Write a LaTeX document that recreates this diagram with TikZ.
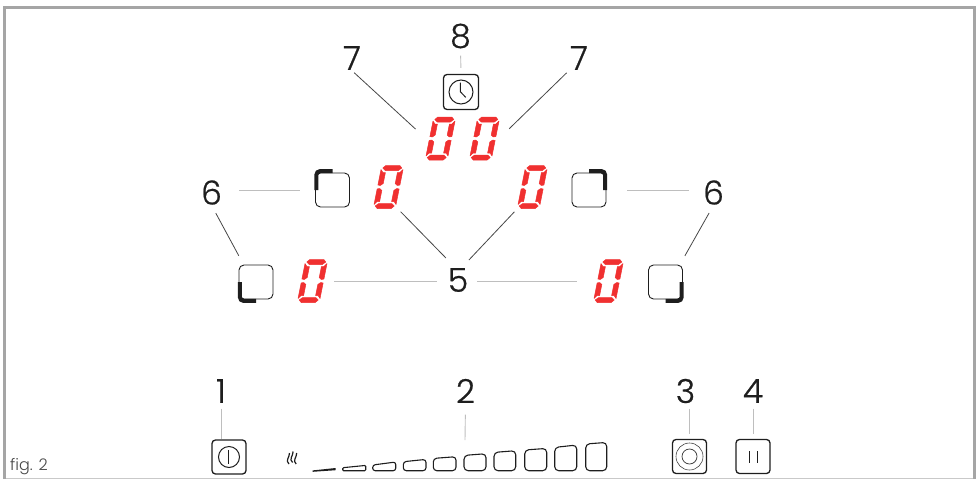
\documentclass[tikz,border=0pt]{standalone}
\usepackage{fontspec}
\setmainfont{Poppins}[UprightFont=* Light]
\newfontfamily\numfont{Poppins}[UprightFont=* Light,UprightFeatures={FakeBold=0.6}]
\usepackage{xcolor}
\usepackage{tikz}
\usetikzlibrary{calc}
\definecolor{framec}{RGB}{165,165,165}
\definecolor{leadc}{RGB}{190,190,190}
\definecolor{darkc}{RGB}{70,70,70}
\definecolor{keyc}{RGB}{30,30,30}
\definecolor{segred}{RGB}{240,48,48}
\tikzset{
  numlabel/.style={font=\numfont\fontsize{33}{33}\selectfont,text=keyc,inner sep=0pt,minimum width=20pt,minimum height=25pt},
  keybox/.style={draw=keyc,line width=1.3pt,rounded corners=3.5pt,minimum size=34pt,inner sep=0pt},
  softbox/.style={draw=keyc,line width=0.9pt,rounded corners=5pt,minimum size=34pt,inner sep=0pt},
  digitbox/.style={minimum width=29pt,minimum height=42pt,inner sep=0pt},
  greyline/.style={leadc,line width=0.9pt},
  darkline/.style={darkc,line width=0.8pt},
  cornermark/.style={keyc,line width=4pt,rounded corners=3.5pt},
  sevenseg/.pic={
    % six lit segments of a slanted seven segment digit, middle one off
    \begin{scope}[xslant=0.2,fill=segred,draw=segred,line width=0.5pt,line join=round]
      \filldraw (-7,-21.5) -- (7,-21.5) -- (9.5,-19) -- (6.5,-16.5) -- (-6.5,-16.5) -- (-9.5,-19) -- cycle;
      \filldraw (-7,21.5) -- (7,21.5) -- (9.5,19) -- (6.5,16.5) -- (-6.5,16.5) -- (-9.5,19) -- cycle;
      \filldraw (-11,-17.5) -- (-8.5,-14.5) -- (-6,-14.5) -- (-6,-3.5) -- (-8.5,-1.5) -- (-11,-2) -- cycle;
      \filldraw (11,-17.5) -- (8.5,-14.5) -- (6,-14.5) -- (6,-3.5) -- (8.5,-1.5) -- (11,-2) -- cycle;
      \filldraw (-11,17.5) -- (-8.5,14.5) -- (-6,14.5) -- (-6,3.5) -- (-8.5,1.5) -- (-11,2) -- cycle;
      \filldraw (11,17.5) -- (8.5,14.5) -- (6,14.5) -- (6,3.5) -- (8.5,1.5) -- (11,2) -- cycle;
    \end{scope}
  }
}
% digit as a node plus its segments
\newcommand{\segdigit}[2]{%
  \node[digitbox] (#1) at (#2) {};
  \pic at (#2) {sevenseg};
}
\begin{document}
\begin{tikzpicture}[x=1pt,y=-1pt]
  \useasboundingbox (0,0) rectangle (976,479);
  % outer frame
  \draw[framec!60,line width=1.2pt] (4,478.3) -- (976,478.3);
  \draw[framec,line width=3pt] (4.5,479) -- (4.5,7.5) -- (974.5,7.5) -- (974.5,479);
  \node[font=\fontsize{16}{16}\selectfont,text=darkc,anchor=west,inner sep=0pt] (figlabel) at (10,467) {fig. 2};

  % labels
  \node[numlabel] (lab8) at (460.5,36) {8};
  \node[numlabel] (lab7l) at (352,58) {7};
  \node[numlabel] (lab7r) at (579,58) {7};
  \node[numlabel] (lab6l) at (211.5,192.5) {6};
  \node[numlabel] (lab6r) at (713.5,192.5) {6};
  \node[numlabel] (lab5) at (458,280) {5};
  \node[numlabel] (lab1) at (221,391) {1};
  \node[numlabel] (lab2) at (465.5,391) {2};
  \node[numlabel] (lab3) at (685.5,391) {3};
  \node[numlabel] (lab4) at (753,391) {4};

  % keys
  \node[keybox,minimum size=35pt] (btntimer) at (461,92) {};
  \node[keybox] (btnpower) at (229,457) {};
  \node[keybox] (btnring) at (689.5,456.5) {};
  \node[keybox] (btnpause) at (753,456.5) {};
  \node[softbox] (btntl) at (332.5,190) {};
  \node[softbox] (btnbl) at (256,282) {};
  \node[softbox] (btntr) at (589,190) {};
  \node[softbox] (btnbr) at (665.5,282) {};

  % thick corner of each zone key
  \draw[cornermark] ([xshift=1.4pt]btntl.west) |- ([yshift=1.4pt]btntl.north);
  \draw[cornermark] ([xshift=-1.4pt]btntr.east) |- ([yshift=1.4pt]btntr.north);
  \draw[cornermark] ([xshift=1.4pt]btnbl.west) |- ([yshift=-1.4pt]btnbl.south);
  \draw[cornermark] ([xshift=-1.4pt]btnbr.east) |- ([yshift=-1.4pt]btnbr.south);

  % key symbols
  \draw[keyc,line width=1pt] (btntimer) circle (12pt);
  \draw[keyc,line width=1pt] (460.3,82.7) -- (460.3,91.7) -- (465.7,97.3);
  \draw[keyc,line width=1pt] (btnpower) circle (10.5pt);
  \draw[keyc,line width=1pt] (228.7,450) -- (228.7,463.5);
  \draw[darkc,line width=0.6pt] (btnring) circle (13.5pt);
  \draw[darkc,line width=0.8pt] (btnring) circle (7.5pt);
  \foreach \px in {749.7,757} {
    \draw[keyc,line width=1pt] (\px,451) -- (\px,463);
  }

  % digits
  \segdigit{digl}{440.5,138.5}
  \segdigit{digr}{484.5,138.5}
  \segdigit{dtl}{388.5,187}
  \segdigit{dtr}{532.5,187}
  \segdigit{dbl}{312.5,281}
  \segdigit{dbr}{608.5,281}

  % heat symbol
  \foreach \px/\py in {0/464,3.6/462.5,7.2/464} {
    \draw[keyc,line width=1.2pt] (289+\px,\py) .. controls (285+\px,\py-3.5) and (289.5+\px,\py-6.5) .. (289.5+\px,\py-11);
  }

  % power level bars
  \foreach \xl/\xr/\hl/\hr/\rc in {342.7/365.7/3/5.3/1, 372.7/395.7/5.7/8.7/2.5, 403.3/426/9/11.3/3,
      433.3/456/12.3/14/3.5, 464/486/15.3/17/4, 494/515.7/18.3/20/4, 524.7/546.7/20.7/22.3/4,
      554.7/576.7/23.3/25.7/4, 585.7/606.7/26.7/28.3/4} {
    \draw[keyc,line width=1.1pt,rounded corners=\rc pt] (\xl,470.7) -- (\xl,470.7-\hl) -- (\xr,470.7-\hr) -- (\xr,470.7) -- cycle;
  }
  \fill[keyc] (312.7,470.4) -- (335.7,468) -- (335.7,470.2) -- (312.7,471.8) -- cycle;
  \coordinate (bartop) at (465,440);

  % leaders
  \draw[greyline,shorten >=6pt,shorten <=7pt] (lab8.south) -- (btntimer.north);
  \draw[darkline,shorten <=3pt,shorten >=14pt] (lab7l.south) -- (digl.west);
  \draw[darkline,shorten <=3pt,shorten >=14pt] (lab7r.south west) -- (digr.east);
  \draw[greyline,shorten <=17pt,shorten >=15pt] (lab6l.east |- btntl.west) -- (btntl.west);
  \draw[greyline,shorten <=21pt,shorten >=14pt] (btntr.east) -- (lab6r.west |- btntr.east);
  \draw[darkline,shorten <=9pt,shorten >=10pt] (lab6l.south) -- ([xshift=5pt]btnbl.north west);
  \draw[darkline,shorten <=9pt,shorten >=10pt] (lab6r.south) -- ([xshift=-3pt]btnbr.north east);
  \draw[darkline,shorten <=5pt,shorten >=13pt] ([xshift=-6pt]dtl.south east) -- ([xshift=-3pt]lab5.north);
  \draw[darkline,shorten <=5pt,shorten >=10pt] (dtr.south west) -- ([xshift=4pt]lab5.north);
  \draw[greyline,shorten <=7pt,shorten >=11pt] (dbl.east) -- (dbl.east -| lab5.west);
  \draw[greyline,shorten <=9pt,shorten >=17pt] (lab5.east |- dbr.west) -- (dbr.west);
  \draw[greyline,shorten <=5pt] (lab1.south) -- (lab1.south |- btnpower.north);
  \draw[greyline,shorten <=11pt] (lab2.south) -- (bartop);
  \draw[greyline,shorten <=5pt,shorten >=5pt] (lab3.south -| btnring.north) -- (btnring.north);
  \draw[greyline,shorten <=5pt,shorten >=5pt] (lab4.south) -- (btnpause.north);
\end{tikzpicture}
\end{document}
